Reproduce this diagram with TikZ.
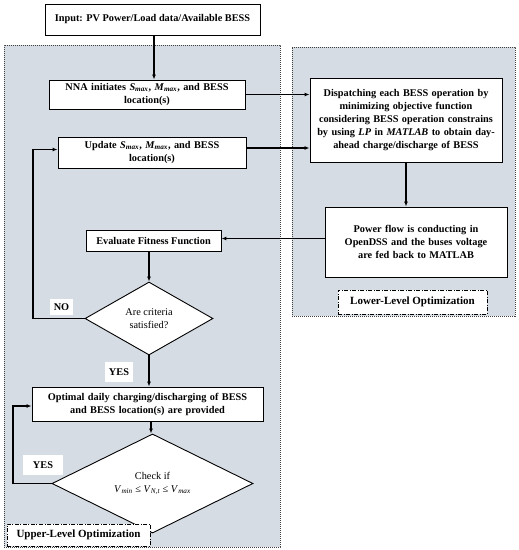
\documentclass[tikz,border=0pt]{standalone}
\usepackage{fontspec}
\setmainfont{Liberation Serif}
\usetikzlibrary{shapes.geometric,arrows.meta,calc}
\definecolor{panelfill}{HTML}{D6DCE4}
\begin{document}
\begin{tikzpicture}[x=1pt,y=-1pt,
  box/.style={draw=black,line width=0.9pt,fill=white,align=center,font=\bfseries\fontsize{10.3}{13}\selectfont,inner sep=1pt},
  dia/.style={draw=black,line width=0.9pt,fill=white,diamond,align=center,font=\fontsize{10.3}{12.7}\selectfont,inner sep=0pt},
  panel/.style={draw=black!75,line width=0.6pt,dash pattern=on 1.2pt off 0.8pt,fill=panelfill},
  lab/.style={draw=black,line width=0.7pt,dash pattern=on 4pt off 1.5pt on 1pt off 1.5pt,fill=white,font=\bfseries\fontsize{11}{13}\selectfont,inner sep=0pt},
  tag/.style={fill=white,font=\bfseries\fontsize{10.3}{12}\selectfont,inner sep=0pt},
  arr/.style={line width=1.1pt,-{Latex[length=5pt,width=4pt]}},
  ln/.style={line width=1.1pt}]
\useasboundingbox (0,0) rectangle (519,550);
\fill[white] (0,0) rectangle (519,550);
% panels
\node[panel,minimum width=276pt,minimum height=502pt,inner sep=0pt] (pl) at (142,296) {};
\node[panel,minimum width=223pt,minimum height=269pt,inner sep=0pt] (pr) at (403.5,181.5) {};
% boxes
\node[box,minimum width=215pt,minimum height=31pt] (inp) at (152.5,19.5) {Input: PV Power/Load data/Available BESS};
\node[box,minimum width=196pt,minimum height=29pt,text width=192pt] (nna) at (147,94.5) {NNA initiates \textit{S}\textsubscript{\textit{max}}, \textit{M}\textsubscript{\textit{max}}, and BESS\\location(s)};
\node[box,minimum width=188pt,minimum height=31pt,text width=184pt] (upd) at (152,152.5) {Update \textit{S}\textsubscript{\textit{max}}, \textit{M}\textsubscript{\textit{max}}, and BESS\\location(s)};
\node[box,minimum width=135pt,minimum height=21pt] (eval) at (153.5,240.5) {Evaluate Fitness Function};
\node[dia,minimum width=128pt,minimum height=73pt] (d1) at (149,318.5) {Are criteria\\satisfied?};
\node[box,minimum width=231pt,minimum height=34pt,text width=228pt] (opt) at (147.5,404) {Optimal daily charging/discharging of BESS\\and BESS location(s) are provided};
\node[dia,minimum width=201pt,minimum height=77pt] (d2) at (152.5,483.5) {Check if\\\textit{V}\textsubscript{\textit{min}} ≤ \textit{V}\textsubscript{\textit{N,t}} ≤ \textit{V}\textsubscript{\textit{max}}};
\node[box,minimum width=192pt,minimum height=84pt,text width=190pt] (disp) at (406,120) {Dispatching each BESS operation by\\minimizing objective function\\considering BESS operation constrains\\by using \textit{LP} in \textit{MATLAB} to obtain day-\\ahead charge/discharge of BESS};
\node[box,minimum width=182pt,minimum height=70pt,text width=178pt] (pf) at (416,242) {Power flow is conducting in\\OpenDSS and the buses voltage\\are fed back to MATLAB};
% labels
\node[lab,minimum width=143pt,minimum height=22pt] (ul) at (78.5,535) {Upper-Level Optimization};
\node[lab,minimum width=149pt,minimum height=24pt] (ll) at (412.5,302) {Lower-Level Optimization};
\node[tag,minimum width=23pt,minimum height=16pt] (no) at (61.5,307) {NO};
\node[tag,minimum width=28pt,minimum height=20pt] (yes1) at (119,372) {YES};
\node[tag,minimum width=40pt,minimum height=20pt] (yes2) at (43,465) {YES};
% connectors
\coordinate (c1) at (154,0);
\draw[arr] (c1 |- inp.south) -- (c1 |- nna.north);
\draw[arr] (nna.east) -- (nna.east -| disp.west);
\coordinate (c2) at (0,148);
\draw[arr] (upd.east |- c2) -- (disp.west |- c2);
\draw[arr] (disp.south) -- (disp.south |- pf.north);
\coordinate (c3) at (0,238.5);
\draw[arr] (pf.west |- c3) -- (eval.east |- c3);
\coordinate (c4) at (149,0);
\draw[arr] (c4 |- eval.south) -- (d1.north);
\draw[arr] (d1.south) -- (d1.south |- opt.north);
\coordinate (k1) at (33,0);
\coordinate (c5) at (0,149.5);
\draw[arr] (d1.west) -- (k1 |- d1.west) -- (k1 |- c5) -- (upd.west |- c5);
\coordinate (c6) at (151,0);
\draw[arr] (c6 |- opt.south) -- (c6 |- d2.north);
\coordinate (k2) at (13,0);
\coordinate (c7) at (0,406);
\draw[arr] (d2.west) -- (k2 |- d2.west) -- (k2 |- c7) -- (opt.west |- c7);
\end{tikzpicture}
\end{document}
